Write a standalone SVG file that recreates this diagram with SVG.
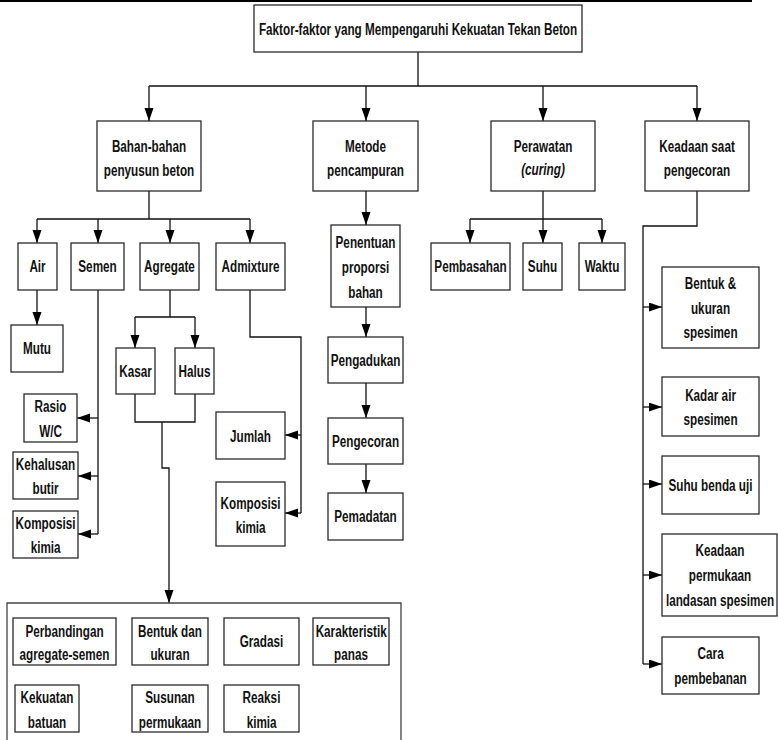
<svg xmlns="http://www.w3.org/2000/svg" width="778" height="740" viewBox="0 0 778 740">
<defs>
<marker id="ah" markerUnits="userSpaceOnUse" markerWidth="13" markerHeight="10" refX="13" refY="4.5" orient="auto">
<path d="M0,0 L13,4.5 L0,9 z" fill="#000"/>
</marker>
<style>
.b{fill:#fff;stroke:#2a2a2a;stroke-width:1.3}
.t{font-family:"Liberation Sans Narrow","Liberation Sans",Arial,sans-serif;font-weight:bold;font-size:17px;fill:#111;text-anchor:middle;transform-box:fill-box;transform-origin:center;transform:scaleX(0.69)}
.c{fill:none;stroke:#111;stroke-width:1.3}
.a{fill:none;stroke:#111;stroke-width:1.3;marker-end:url(#ah)}
</style>
</defs>
<rect width="778" height="740" fill="#fff"/>
<line x1="0" y1="1" x2="752" y2="1" stroke="#000" stroke-width="2"/>

<g id="connectors">
<path class="c" d="M418,52 V86 M149,86 H697"/>
<path class="a" d="M149,86 V121"/>
<path class="a" d="M366,86 V121"/>
<path class="a" d="M543,86 V121"/>
<path class="a" d="M697,86 V121"/>
<path class="c" d="M149,191 V219 M37,219 H250"/>
<path class="a" d="M37,219 V243"/>
<path class="a" d="M98,219 V243"/>
<path class="a" d="M170,219 V243"/>
<path class="a" d="M250,219 V243"/>
<path class="a" d="M37,290 V325"/>
<path class="c" d="M98,290 V534"/>
<path class="a" d="M98,418 H77"/>
<path class="a" d="M98,476 H78"/>
<path class="a" d="M98,534 H78"/>
<path class="c" d="M170,290 V317 M135,317 H195"/>
<path class="a" d="M135,317 V348"/>
<path class="a" d="M195,317 V348"/>
<path class="c" d="M135,394 V422 H195 V394"/>
<path class="a" d="M162,422 V468 H169 V603"/>
<path class="c" d="M250,290 V337 H301 V513"/>
<path class="a" d="M301,435 H285"/>
<path class="a" d="M301,513 H285"/>
<path class="a" d="M366,191 V225"/>
<path class="a" d="M366,307 V337"/>
<path class="a" d="M366,383 V418"/>
<path class="a" d="M366,464 V493"/>
<path class="c" d="M543,191 V219 M470,219 H602"/>
<path class="a" d="M470,219 V243"/>
<path class="a" d="M543,219 V243"/>
<path class="a" d="M602,219 V243"/>
<path class="c" d="M697,191 V226 H643 V664"/>
<path class="a" d="M643,307 H662"/>
<path class="a" d="M643,407 H662"/>
<path class="a" d="M643,484 H662"/>
<path class="a" d="M643,575 H662"/>
<path class="a" d="M643,664 H662"/>
</g>

<g id="title"><rect class="b" x="254" y="5" width="328" height="47"/><text class="t" x="418" y="35">Faktor-faktor yang Mempengaruhi Kekuatan Tekan Beton</text></g>

<g id="bahan"><rect class="b" x="97" y="121" width="104" height="70"/><text class="t" x="149" y="152">Bahan-bahan</text><text class="t" x="149" y="176">penyusun beton</text></g>
<g id="metode"><rect class="b" x="313" y="121" width="105" height="70"/><text class="t" x="365.5" y="152">Metode</text><text class="t" x="365.5" y="176">pencampuran</text></g>
<g id="perawatan"><rect class="b" x="491" y="121" width="104" height="70"/><text class="t" x="543" y="152">Perawatan</text><text class="t" x="543" y="175" font-style="italic">(curing)</text></g>
<g id="keadaan"><rect class="b" x="645" y="121" width="104" height="70"/><text class="t" x="697" y="152">Keadaan saat</text><text class="t" x="697" y="176">pengecoran</text></g>

<g id="air"><rect class="b" x="18" y="243" width="39" height="47"/><text class="t" x="37.5" y="272">Air</text></g>
<g id="semen"><rect class="b" x="71" y="243" width="53" height="47"/><text class="t" x="97.5" y="272">Semen</text></g>
<g id="agregate"><rect class="b" x="140" y="243" width="59" height="47"/><text class="t" x="169.5" y="272">Agregate</text></g>
<g id="admixture"><rect class="b" x="216" y="243" width="69" height="47"/><text class="t" x="250.5" y="272">Admixture</text></g>

<g id="mutu"><rect class="b" x="11" y="325" width="52" height="47"/><text class="t" x="37" y="354">Mutu</text></g>
<g id="kasar"><rect class="b" x="116" y="348" width="39" height="46"/><text class="t" x="135.5" y="377">Kasar</text></g>
<g id="halus"><rect class="b" x="175" y="348" width="39" height="46"/><text class="t" x="194.5" y="377">Halus</text></g>

<g id="rasio"><rect class="b" x="24" y="394" width="53" height="48"/><text class="t" x="50.5" y="412">Rasio</text><text class="t" x="50.5" y="437">W/C</text></g>
<g id="kehalusan"><rect class="b" x="13" y="452" width="65" height="47"/><text class="t" x="45.5" y="470">Kehalusan</text><text class="t" x="45.5" y="494">butir</text></g>
<g id="komposisi1"><rect class="b" x="13" y="511" width="65" height="47"/><text class="t" x="45.5" y="529">Komposisi</text><text class="t" x="45.5" y="553">kimia</text></g>

<g id="jumlah"><rect class="b" x="216" y="412" width="69" height="47"/><text class="t" x="250.5" y="442">Jumlah</text></g>
<g id="komposisi2"><rect class="b" x="216" y="482" width="69" height="64"/><text class="t" x="250.5" y="509">Komposisi</text><text class="t" x="250.5" y="533">kimia</text></g>

<g id="penentuan"><rect class="b" x="331" y="225" width="69" height="82"/><text class="t" x="365.5" y="248">Penentuan</text><text class="t" x="365.5" y="273">proporsi</text><text class="t" x="365.5" y="298">bahan</text></g>
<g id="pengadukan"><rect class="b" x="328" y="337" width="75" height="46"/><text class="t" x="365.5" y="366">Pengadukan</text></g>
<g id="pengecoran"><rect class="b" x="328" y="418" width="75" height="46"/><text class="t" x="365.5" y="447">Pengecoran</text></g>
<g id="pemadatan"><rect class="b" x="328" y="493" width="75" height="47"/><text class="t" x="365.5" y="522">Pemadatan</text></g>

<g id="pembasahan"><rect class="b" x="431" y="243" width="79" height="47"/><text class="t" x="470.5" y="272">Pembasahan</text></g>
<g id="suhu"><rect class="b" x="523" y="243" width="39" height="47"/><text class="t" x="542.5" y="272">Suhu</text></g>
<g id="waktu"><rect class="b" x="579" y="243" width="46" height="47"/><text class="t" x="602" y="272">Waktu</text></g>

<g id="bentuk-ukuran"><rect class="b" x="662" y="267" width="97" height="81"/><text class="t" x="710.5" y="289">Bentuk &amp;</text><text class="t" x="710.5" y="314">ukuran</text><text class="t" x="710.5" y="338">spesimen</text></g>
<g id="kadar-air"><rect class="b" x="662" y="377" width="97" height="59"/><text class="t" x="710.5" y="401">Kadar air</text><text class="t" x="710.5" y="425">spesimen</text></g>
<g id="suhu-benda"><rect class="b" x="662" y="456" width="97" height="58"/><text class="t" x="710.5" y="491">Suhu benda uji</text></g>
<g id="keadaan-permukaan"><rect class="b" x="662" y="534" width="115" height="82"/><text class="t" x="720" y="556">Keadaan</text><text class="t" x="720" y="581">permukaan</text><text class="t" x="720" y="606">landasan spesimen</text></g>
<g id="cara"><rect class="b" x="662" y="637" width="97" height="57"/><text class="t" x="710.5" y="659">Cara</text><text class="t" x="710.5" y="684">pembebanan</text></g>

<g id="agregat-group"><path d="M7,740 V603 H401 V740" fill="none" stroke="#444" stroke-width="1.3"/></g>
<g id="perbandingan"><rect class="b" x="13" y="618" width="103" height="47"/><text class="t" x="64.5" y="637">Perbandingan</text><text class="t" x="64.5" y="660">agregate-semen</text></g>
<g id="bentuk-dan-ukuran"><rect class="b" x="132" y="618" width="76" height="47"/><text class="t" x="170" y="637">Bentuk dan</text><text class="t" x="170" y="660">ukuran</text></g>
<g id="gradasi"><rect class="b" x="224" y="618" width="75" height="47"/><text class="t" x="261.5" y="647">Gradasi</text></g>
<g id="karakteristik"><rect class="b" x="313" y="618" width="76" height="47"/><text class="t" x="351" y="637">Karakteristik</text><text class="t" x="351" y="660">panas</text></g>
<g id="kekuatan"><rect class="b" x="15" y="685" width="64" height="47"/><text class="t" x="47" y="703">Kekuatan</text><text class="t" x="47" y="728">batuan</text></g>
<g id="susunan"><rect class="b" x="132" y="685" width="76" height="47"/><text class="t" x="170" y="703">Susunan</text><text class="t" x="170" y="728">permukaan</text></g>
<g id="reaksi"><rect class="b" x="224" y="685" width="75" height="47"/><text class="t" x="261.5" y="703">Reaksi</text><text class="t" x="261.5" y="728">kimia</text></g>
</svg>
